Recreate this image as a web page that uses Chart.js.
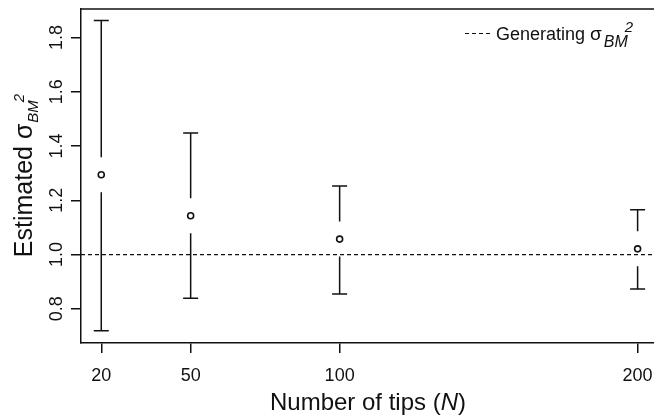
<!DOCTYPE html>
<html>
<head>
<meta charset="utf-8">
<script src="https://cdn.jsdelivr.net/npm/chart.js@4.4.1/dist/chart.umd.min.js"></script>
<style>
  html, body { margin: 0; padding: 0; background: #ffffff; }
  #wrap { width: 654px; height: 419px; position: relative; }
</style>
</head>
<body>
<div id="wrap"><canvas id="c" width="654" height="419"></canvas></div>
<script>
// ---- data ----
const categories   = [20, 50, 100, 200];            // number of tips (N)
const estimates    = [1.294, 1.143, 1.057, 1.021];  // estimated sigma_BM^2
const upperCI      = [1.863, 1.448, 1.253, 1.165];
const lowerCI      = [0.719, 0.839, 0.855, 0.873];
const generatingValue = 1.0;
const xTickValues  = [20, 50, 100, 200];
const xTickLabels  = ['20', '50', '100', '200'];
const yTickValues  = [0.8, 1.0, 1.2, 1.4, 1.6, 1.8];
const yTickLabels  = ['0.8', '1.0', '1.2', '1.4', '1.6', '1.8'];

const FONT = '"Liberation Sans", Arial, Helvetica, sans-serif';
const INK = '#111111';
const X_MIN = 13.2, X_MAX = 205.5, Y_MIN = 0.674, Y_MAX = 1.905;

function drawRich(ctx, parts) {
  let x = 0;
  for (const p of parts) {
    ctx.font = p.font;
    x += (p.dx || 0);
    ctx.fillText(p.t, x, p.dy || 0);
    x += ctx.measureText(p.t).width;
  }
  return x;
}
function richWidth(ctx, parts) {
  let w = 0;
  for (const p of parts) { ctx.font = p.font; w += (p.dx || 0) + ctx.measureText(p.t).width; }
  return w;
}

const decorPlugin = {
  id: 'decor',
  beforeDatasetsDraw(chart) {
    const ctx = chart.ctx, xs = chart.scales.x, ys = chart.scales.y;
    const gap = 17.5, cap = 7.5;
    ctx.save();
    ctx.strokeStyle = INK;
    ctx.lineWidth = 1.5;
    ctx.lineCap = 'butt';
    for (let i = 0; i < categories.length; i++) {
      const px = xs.getPixelForValue(categories[i]);
      const pm = ys.getPixelForValue(estimates[i]);
      const pu = ys.getPixelForValue(upperCI[i]);
      const pl = ys.getPixelForValue(lowerCI[i]);
      ctx.beginPath();
      ctx.moveTo(px, pu); ctx.lineTo(px, pm - gap);
      ctx.moveTo(px, pm + gap); ctx.lineTo(px, pl);
      ctx.moveTo(px - cap, pu); ctx.lineTo(px + cap, pu);
      ctx.moveTo(px - cap, pl); ctx.lineTo(px + cap, pl);
      ctx.stroke();
    }
    ctx.restore();
  },
  afterDraw(chart) {
    const ctx = chart.ctx, a = chart.chartArea, xs = chart.scales.x, ys = chart.scales.y;
    ctx.save();
    ctx.strokeStyle = INK;
    ctx.lineWidth = 1.5;
    ctx.beginPath();
    ctx.moveTo(a.left - 0.75, a.top); ctx.lineTo(a.right, a.top);
    ctx.stroke();

    ctx.fillStyle = INK;
    ctx.font = '18px ' + FONT;
    ctx.textAlign = 'center';
    ctx.textBaseline = 'alphabetic';
    xTickValues.forEach((v, i) => {
      ctx.fillText(xTickLabels[i], xs.getPixelForValue(v), 381);
    });
    yTickValues.forEach((v, i) => {
      const py = ys.getPixelForValue(v);
      ctx.save();
      ctx.translate(62, py);
      ctx.rotate(-Math.PI / 2);
      ctx.textAlign = 'center';
      ctx.fillText(yTickLabels[i], 0, 0);
      ctx.restore();
    });
    ctx.textAlign = 'left';

    const xParts = [
      { t: 'Number of tips (', font: '24px ' + FONT },
      { t: 'N', font: 'italic 24px ' + FONT },
      { t: ')', font: '24px ' + FONT }
    ];
    const xw = richWidth(ctx, xParts);
    ctx.save();
    ctx.translate(368 - xw / 2, 410);
    drawRich(ctx, xParts);
    ctx.restore();

    const yParts = [
      { t: 'Estimated σ', font: '25px ' + FONT },
      { t: 'BM', font: 'italic 15px ' + FONT, dy: 6, dx: 1 },
      { t: '2', font: 'italic 15px ' + FONT, dy: -8, dx: -2 }
    ];
    const yw = richWidth(ctx, yParts);
    ctx.save();
    ctx.translate(31.5, 175.5 + yw / 2);
    ctx.rotate(-Math.PI / 2);
    drawRich(ctx, yParts);
    ctx.restore();

    ctx.strokeStyle = INK;
    ctx.lineWidth = 1.2;
    ctx.setLineDash([4, 3]);
    ctx.beginPath();
    ctx.moveTo(465, 33.5); ctx.lineTo(490, 33.5);
    ctx.stroke();
    ctx.setLineDash([]);
    ctx.save();
    ctx.translate(496, 40);
    drawRich(ctx, [
      { t: 'Generating ', font: '18px ' + FONT },
      { t: 'σ', font: '19px ' + FONT },
      { t: 'BM', font: 'italic 16px ' + FONT, dy: 7, dx: 2 },
      { t: '2', font: 'italic 15px ' + FONT, dy: -8, dx: -3 }
    ]);
    ctx.restore();
    ctx.restore();
  }
};

new Chart(document.getElementById('c'), {
  type: 'scatter',
  data: {
    datasets: [
      {
        type: 'line',
        label: 'Generating',
        data: [{ x: X_MIN, y: generatingValue }, { x: X_MAX, y: generatingValue }],
        borderColor: INK,
        borderWidth: 1.2,
        borderDash: [4, 3],
        pointRadius: 0,
        fill: false,
        order: 2
      },
      {
        label: 'Estimated',
        data: categories.map((c, i) => ({ x: c, y: estimates[i] })),
        pointStyle: 'circle',
        pointRadius: 3,
        pointHoverRadius: 3,
        borderColor: INK,
        borderWidth: 1.6,
        backgroundColor: 'rgba(255,255,255,0)',
        order: 1
      }
    ]
  },
  options: {
    responsive: false,
    animation: false,
    events: [],
    layout: { autoPadding: false, padding: { left: 0, right: 0, top: 9, bottom: 0 } },
    plugins: { legend: { display: false }, tooltip: { enabled: false } },
    scales: {
      x: {
        type: 'linear',
        min: X_MIN, max: X_MAX,
        afterBuildTicks: (s) => { s.ticks = xTickValues.map(v => ({ value: v })); },
        afterFit: (s) => { s.height = 76; s.paddingLeft = 0; s.paddingRight = 0; },
        ticks: { display: false },
        grid: { display: true, drawOnChartArea: false, drawTicks: true, tickLength: 10, color: INK, lineWidth: 1.5 },
        border: { display: true, color: INK, width: 1.5 }
      },
      y: {
        type: 'linear',
        min: Y_MIN, max: Y_MAX,
        afterBuildTicks: (s) => { s.ticks = yTickValues.map(v => ({ value: v })); },
        afterFit: (s) => { s.width = 81; s.paddingTop = 0; s.paddingBottom = 0; },
        ticks: { display: false },
        grid: { display: true, drawOnChartArea: false, drawTicks: true, tickLength: 10, color: INK, lineWidth: 1.5 },
        border: { display: true, color: INK, width: 1.5 }
      }
    }
  },
  plugins: [decorPlugin]
});
</script>
</body>
</html>
